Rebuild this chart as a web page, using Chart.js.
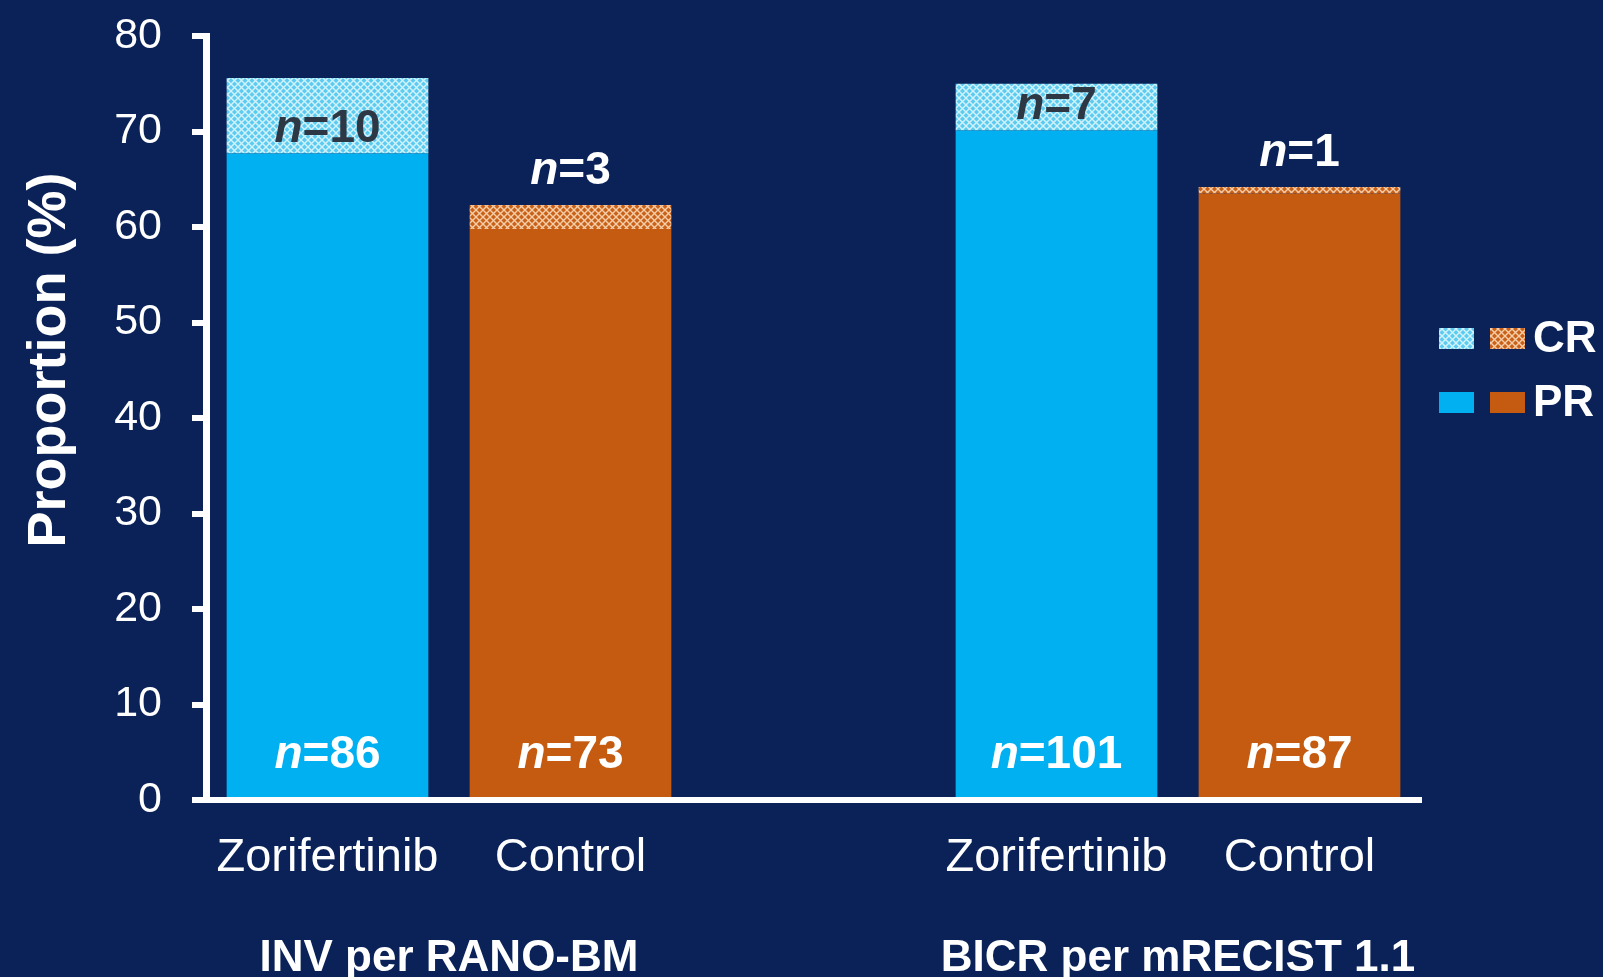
<!DOCTYPE html>
<html>
<head>
<meta charset="utf-8">
<title>Intracranial response</title>
<script src="https://cdn.jsdelivr.net/npm/chart.js@4.4.1/dist/chart.umd.min.js"></script>
<style>
  html, body { margin: 0; padding: 0; background: #0a2258; }
  #wrap { width: 1603px; height: 977px; position: relative; }
  canvas { display: block; }
</style>
</head>
<body>
<div id="wrap"><canvas id="chart" width="1603" height="977"></canvas></div>
<script>
// Categories along the x axis (an empty slot separates the two assessments)
const categories = ['Zorifertinib', 'Control', '', 'Zorifertinib', 'Control'];
const groupLabels = ['INV per RANO-BM', 'BICR per mRECIST 1.1'];
const groupMembers = [[0, 1], [3, 4]];

// Proportion of patients (%) by response type
const prValues = [67.7, 59.8, null, 70.1, 63.5];
const crValues = [7.9, 2.5, null, 4.9, 0.7];

// Patient counts shown on the bars
const prCounts = [86, 73, null, 101, 87];
const crCounts = [10, 3, null, 7, 1];

// Y axis ticks
const yTicks = [0, 10, 20, 30, 40, 50, 60, 70, 80];

const FONT = "'Liberation Sans', Arial, Helvetica, sans-serif";
const BLUE = '#00b0f0';
const ORANGE = '#c55a11';

function makeHatch(base, line) {
  const s = 7;
  const t = document.createElement('canvas');
  t.width = s; t.height = s;
  const g = t.getContext('2d');
  g.fillStyle = base;
  g.fillRect(0, 0, s, s);
  g.strokeStyle = line;
  g.lineWidth = 1.4;
  g.beginPath();
  g.moveTo(0, 0); g.lineTo(s, s);
  g.moveTo(s, 0); g.lineTo(0, s);
  g.stroke();
  return g.createPattern(t, 'repeat');
}

const ctx0 = document.getElementById('chart').getContext('2d');
const blueHatch = makeHatch('#5ccbef', '#d2f3fc');
const orangeHatch = makeHatch('#c8621b', '#f6cda6');

const armIsControl = categories.map((c) => c === 'Control');
const prColors = armIsControl.map((c) => (c ? ORANGE : BLUE));
const crColors = armIsControl.map((c) => (c ? orangeHatch : blueHatch));

// Draws "n=XX" with an italic n, centred on x
function drawN(ctx, count, x, y, color, size) {
  const italic = `italic bold ${size}px ${FONT}`;
  const bold = `bold ${size}px ${FONT}`;
  ctx.font = italic;
  const w1 = ctx.measureText('n').width;
  ctx.font = bold;
  const rest = '=' + count;
  const w2 = ctx.measureText(rest).width;
  const x0 = x - (w1 + w2) / 2;
  ctx.fillStyle = color;
  ctx.textBaseline = 'middle';
  ctx.textAlign = 'left';
  ctx.font = italic;
  ctx.fillText('n', x0, y);
  ctx.font = bold;
  ctx.fillText(rest, x0 + w1, y);
}

const countLabels = {
  id: 'countLabels',
  afterDatasetsDraw(chart) {
    const ctx = chart.ctx;
    const prMeta = chart.getDatasetMeta(0);
    const crMeta = chart.getDatasetMeta(1);
    const yScale = chart.scales.y;
    ctx.save();
    prMeta.data.forEach((bar, i) => {
      if (prCounts[i] == null) return;
      const base = yScale.getPixelForValue(0);
      drawN(ctx, prCounts[i], bar.x, base - 45, '#ffffff', 46);
      const crBar = crMeta.data[i];
      const segH = crBar.base - crBar.y;
      if (segH > 40) {
        drawN(ctx, crCounts[i], crBar.x, crBar.base - 24, '#2e3744', 46);
      } else {
        drawN(ctx, crCounts[i], crBar.x, crBar.y - 34, '#ffffff', 46);
      }
    });
    ctx.restore();
  }
};

const decorations = {
  id: 'decorations',
  afterDraw(chart) {
    const ctx = chart.ctx;
    const xScale = chart.scales.x;
    ctx.save();
    // Group captions under the arm labels
    ctx.fillStyle = '#ffffff';
    ctx.font = `bold 44px ${FONT}`;
    ctx.textAlign = 'center';
    ctx.textBaseline = 'alphabetic';
    groupMembers.forEach((m, gi) => {
      const cx = (xScale.getPixelForValue(m[0]) + xScale.getPixelForValue(m[1])) / 2;
      ctx.fillText(groupLabels[gi], cx, 971);
    });
    // Y axis title
    ctx.save();
    ctx.translate(65, 360);
    ctx.rotate(-Math.PI / 2);
    ctx.font = `bold 54px ${FONT}`;
    ctx.textAlign = 'center';
    ctx.textBaseline = 'alphabetic';
    ctx.fillText('Proportion (%)', 0, 0);
    ctx.restore();
    // Legend: two swatches per response type
    const rows = [
      { label: 'CR', fills: [blueHatch, orangeHatch], y: 338 },
      { label: 'PR', fills: [BLUE, ORANGE], y: 402 }
    ];
    rows.forEach((r) => {
      ctx.fillStyle = r.fills[0];
      ctx.fillRect(1439, r.y - 10, 35, 21);
      ctx.fillStyle = r.fills[1];
      ctx.fillRect(1490, r.y - 10, 35, 21);
      ctx.fillStyle = '#ffffff';
      ctx.font = `bold 44px ${FONT}`;
      ctx.textAlign = 'left';
      ctx.textBaseline = 'middle';
      ctx.fillText(r.label, 1533, r.y + 2);
    });
    ctx.restore();
  }
};

new Chart(ctx0, {
  type: 'bar',
  data: {
    labels: categories,
    datasets: [
      { label: 'PR', data: prValues, backgroundColor: prColors, borderWidth: 0 },
      { label: 'CR', data: crValues, backgroundColor: crColors, borderWidth: 0 }
    ]
  },
  options: {
    responsive: false,
    devicePixelRatio: 1,
    animation: false,
    barPercentage: 0.83,
    categoryPercentage: 1.0,
    layout: { padding: { top: 36, right: 182, bottom: 0, left: 0 } },
    plugins: {
      legend: { display: false },
      tooltip: { enabled: false },
      title: { display: false }
    },
    scales: {
      x: {
        stacked: true,
        grid: { display: false, drawTicks: false },
        border: { display: true, color: '#ffffff', width: 6, z: 1 },
        ticks: {
          color: '#ffffff',
          font: { family: FONT, size: 47 },
          padding: 30,
          autoSkip: false,
          maxRotation: 0
        },
        afterFit(scale) { scale.height = 177; }
      },
      y: {
        stacked: true,
        min: 0,
        max: 80,
        afterBuildTicks(scale) { scale.ticks = yTicks.map((v) => ({ value: v })); },
        grid: {
          display: true,
          drawOnChartArea: false,
          drawTicks: true,
          tickLength: 14,
          tickWidth: 6,
          tickColor: '#ffffff',
          color: '#ffffff',
          lineWidth: 6
        },
        border: { display: true, color: '#ffffff', width: 7, z: 1 },
        ticks: {
          color: '#ffffff',
          font: { family: FONT, size: 43 },
          padding: 30
        },
        afterFit(scale) {
          scale.width = 206;
          scale.paddingTop = 0;
          scale.paddingBottom = 0;
        }
      }
    }
  },
  plugins: [countLabels, decorations]
});
</script>
</body>
</html>
